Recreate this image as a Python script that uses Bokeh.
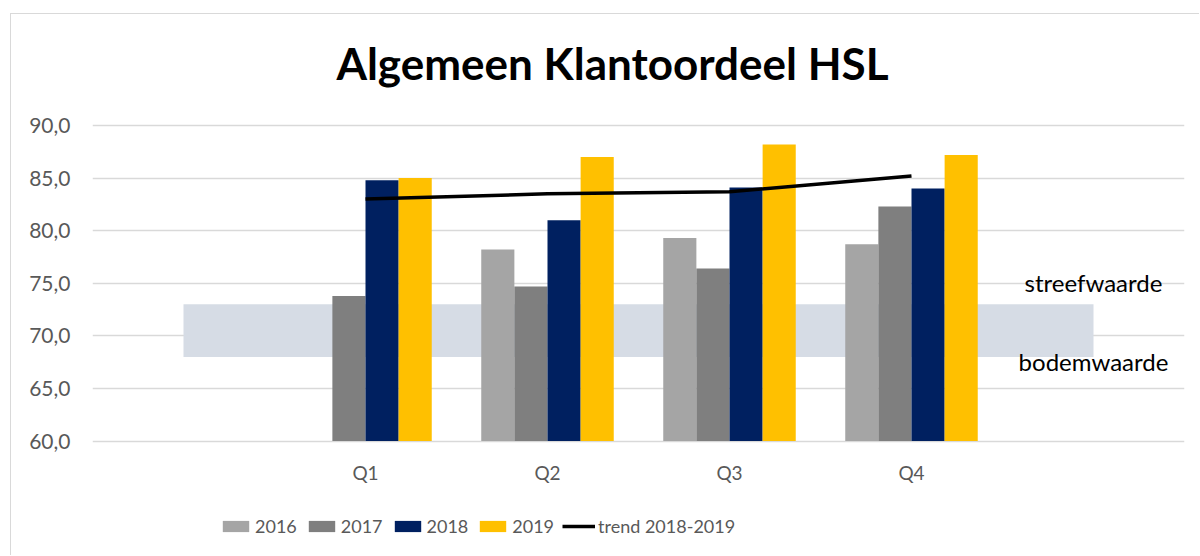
import math
from bokeh.plotting import figure
from bokeh.models import ColumnDataSource, FixedTicker, Legend, LegendItem, Label, FactorRange, Range1d
from bokeh.transform import dodge
from bokeh.core.properties import value
from bokeh.embed import file_html
from bokeh.resources import INLINE

# ---- data ----
quarters = ["Q1", "Q2", "Q3", "Q4"]
axis_factors = ["", "Q1", "Q2", "Q3", "Q4", " "]
years = ["2016", "2017", "2018", "2019"]
v2016 = [math.nan, 78.2, 79.3, 78.7]
v2017 = [73.8, 74.7, 76.4, 82.3]
v2018 = [84.8, 81.0, 84.1, 84.0]
v2019 = [85.0, 87.0, 88.2, 87.2]
trend = [83.0, 83.5, 83.7, 85.2]
trend_name = "trend 2018-2019"
band_low = 68.0
band_high = 73.0
band_labels = ["streefwaarde", "bodemwaarde"]
band_label_y = [75.1, 67.6]
y_ticks = [60, 65, 70, 75, 80, 85, 90]
y_tick_labels = ["60,0", "65,0", "70,0", "75,0", "80,0", "85,0", "90,0"]
title_text = "Algemeen Klantoordeel HSL"

colors = ["#A5A5A5", "#7F7F7F", "#002060", "#FFC000"]
band_color = "#D6DCE5"
grid_color = "#D9D9D9"
label_color = "#595959"

# the frame is extended beyond the value axis so that title and legend can sit inside it
y_view_min = 49.5
y_view_max = 100.55

p = figure(
    width=1189, height=542,
    x_range=FactorRange(factors=axis_factors),
    y_range=Range1d(y_view_min, y_view_max),
    output_backend="svg", toolbar_location=None,
    min_border_left=81, min_border_right=16, min_border_top=0, min_border_bottom=5,
)
p.margin = (13, 0, 0, 10)
p.styles = {"border-left": "1px solid #D9D9D9", "border-top": "1px solid #D9D9D9"}
p.outline_line_color = None
p.background_fill_color = "white"

# band
p.varea(x=axis_factors, y1=[band_low] * len(axis_factors), y2=[band_high] * len(axis_factors),
        fill_color=band_color)

src = ColumnDataSource(dict(q=quarters, y2016=v2016, y2017=v2017, y2018=v2018, y2019=v2019))
bw = 0.182
offsets = [-1.5 * bw, -0.5 * bw, 0.5 * bw, 1.5 * bw]
bar_renderers = []
for yr, col, off in zip(years, colors, offsets):
    r = p.vbar(x=dodge("q", off, range=p.x_range), top="y" + yr, bottom=y_ticks[0], width=bw,
               source=src, fill_color=col, line_color=None)
    bar_renderers.append(r)

trend_r = p.line(x=quarters, y=trend, line_color="black", line_width=3.5)

# band labels
p.text(x=[" ", " "], y=band_label_y, text=band_labels, text_align="center", text_baseline="middle",
       text_font=value("Lato"), text_font_size="24px", text_color="black")

# title
p.add_layout(Label(x=2.857, y=95.95, text=title_text, text_align="center", text_baseline="alphabetic",
                   text_font="Lato", text_font_style="bold", text_font_size="44px", text_color="black"))

# axes
p.yaxis.ticker = FixedTicker(ticks=y_ticks)
p.yaxis.major_label_overrides = dict(zip(y_ticks, y_tick_labels))
p.yaxis.axis_line_color = None
p.yaxis.major_tick_line_color = None
p.yaxis.minor_tick_line_color = None
p.yaxis.major_tick_out = 0
p.yaxis.major_label_standoff = 22
p.yaxis.major_label_text_font = "Lato"
p.yaxis.major_label_text_font_size = "21px"
p.yaxis.major_label_text_color = label_color

p.xaxis.fixed_location = y_ticks[0]
p.xaxis.axis_line_color = None
p.xaxis.major_tick_line_color = None
p.xaxis.major_tick_out = 0
p.xaxis.major_label_standoff = 20
p.xaxis.major_label_text_font = "Lato"
p.xaxis.major_label_text_font_size = "19px"
p.xaxis.major_label_text_color = label_color

p.xgrid.grid_line_color = None
p.ygrid.grid_line_color = grid_color
p.ygrid.grid_line_width = 1.5

items = [LegendItem(label=yr, renderers=[r]) for yr, r in zip(years, bar_renderers)]
items.append(LegendItem(label=trend_name, renderers=[trend_r]))
legend = Legend(items=items, orientation="horizontal", location=(127, 14),
                glyph_width=33, glyph_height=14, label_standoff=3, spacing=8,
                padding=0, margin=0, border_line_color=None, background_fill_alpha=0,
                label_text_font="Lato", label_text_font_size="18px",
                label_text_color=label_color)
p.add_layout(legend, "center")

open("out.html", "w").write(file_html(p, INLINE))
